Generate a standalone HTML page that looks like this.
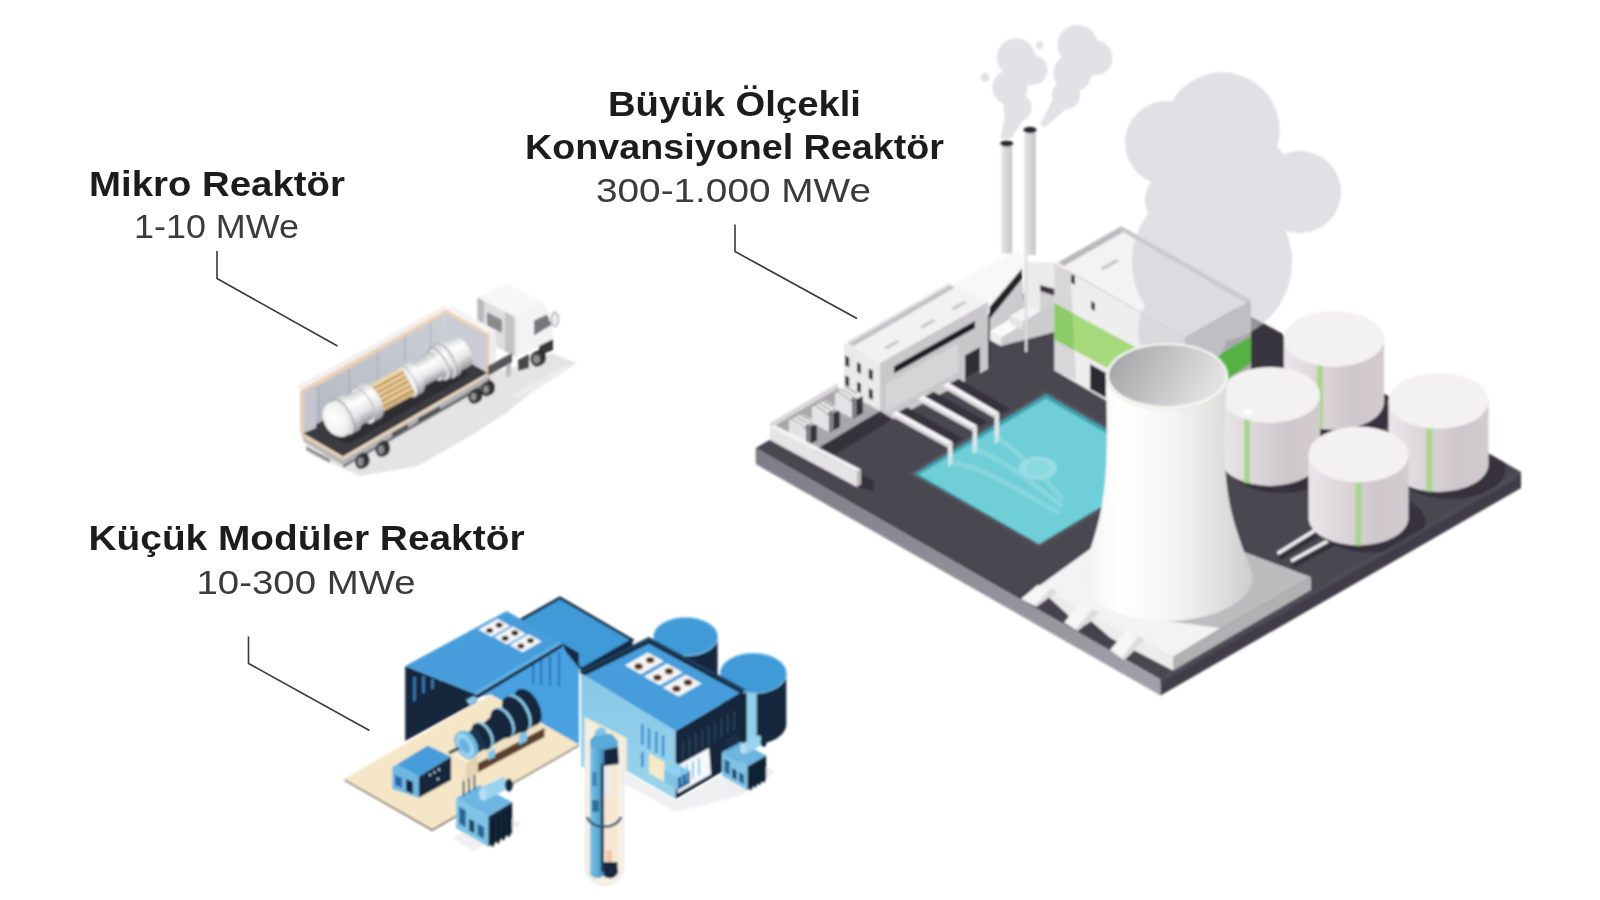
<!DOCTYPE html>
<html><head><meta charset="utf-8">
<style>
html,body{margin:0;padding:0;background:#fff;}
body{width:1600px;height:900px;overflow:hidden;font-family:"Liberation Sans",sans-serif;}
svg{display:block;position:absolute;left:0;top:0;}
.b{font-family:"Liberation Sans",sans-serif;font-weight:700;fill:#1e1e1e;}
.r{font-family:"Liberation Sans",sans-serif;font-weight:400;fill:#3a3a3a;}
.ln{fill:none;stroke:#3a3a3a;stroke-width:1.6;}
</style></head>
<body>
<svg width="1600" height="900" viewBox="0 0 1600 900">
<defs>
<filter id="soft" x="-5%" y="-5%" width="110%" height="110%"><feGaussianBlur stdDeviation="0.6"/></filter>
<filter id="soft2" x="-5%" y="-5%" width="110%" height="110%"><feGaussianBlur stdDeviation="0.8"/></filter>

<clipPath id="platclip"><polygon points="755.7,448 1116,240.5 1521,472 1160.5,679.5"/></clipPath>
<linearGradient id="pfL" x1="0" y1="0" x2="0" y2="1" gradientUnits="objectBoundingBox"><stop offset="0" stop-color="#7d7b86"/><stop offset="1" stop-color="#a3a1a9"/></linearGradient>
<linearGradient id="chim" x1="0" y1="0" x2="1" y2="0"><stop offset="0" stop-color="#e6e6e7"/><stop offset="0.5" stop-color="#d6d6d8"/><stop offset="1" stop-color="#c6c6c8"/></linearGradient>
<linearGradient id="tankg" x1="0" y1="0" x2="1" y2="0"><stop offset="0" stop-color="#ebe7e9"/><stop offset="0.35" stop-color="#dcd5d9"/><stop offset="0.7" stop-color="#cec6ca"/><stop offset="1" stop-color="#d3cccf"/></linearGradient>
<linearGradient id="towg" x1="0" y1="0" x2="1" y2="0"><stop offset="0" stop-color="#f1f1f1"/><stop offset="0.22" stop-color="#ffffff"/><stop offset="0.55" stop-color="#f4f4f4"/><stop offset="0.85" stop-color="#dcdcdc"/><stop offset="1" stop-color="#cdcdcd"/></linearGradient>
<linearGradient id="towin" x1="0" y1="0" x2="1" y2="0.3"><stop offset="0" stop-color="#a0a0a2"/><stop offset="0.5" stop-color="#c0c0c2"/><stop offset="1" stop-color="#e1e1e2"/></linearGradient>

<linearGradient id="rb" x1="0" y1="0" x2="0" y2="1"><stop offset="0" stop-color="#cfcfd2"/><stop offset="0.3" stop-color="#ffffff"/><stop offset="0.65" stop-color="#e6e6e8"/><stop offset="1" stop-color="#97979b"/></linearGradient>
<linearGradient id="cwall" x1="0" y1="1" x2="1" y2="0"><stop offset="0" stop-color="#b3b7c1"/><stop offset="1" stop-color="#ccd0d7"/></linearGradient>
<linearGradient id="rbody" x1="0" y1="0" x2="0.6" y2="1"><stop offset="0" stop-color="#ffffff"/><stop offset="0.5" stop-color="#ededee"/><stop offset="1" stop-color="#a9a9ad"/></linearGradient>
<linearGradient id="rbody2" x1="0" y1="0" x2="0.5" y2="1"><stop offset="0" stop-color="#d9d9db"/><stop offset="0.35" stop-color="#ffffff"/><stop offset="0.7" stop-color="#e3e3e5"/><stop offset="1" stop-color="#9d9da1"/></linearGradient>
<radialGradient id="rcap" cx="0.4" cy="0.4" r="0.7"><stop offset="0" stop-color="#ffffff"/><stop offset="0.7" stop-color="#f0f0f1"/><stop offset="1" stop-color="#c9c9cc"/></radialGradient>

<linearGradient id="capb" x1="0" y1="0" x2="1" y2="0"><stop offset="0" stop-color="#7fc4e6"/><stop offset="0.6" stop-color="#5aa7d2"/><stop offset="1" stop-color="#3f86b4"/></linearGradient>
<linearGradient id="b2wall" x1="0" y1="0" x2="0" y2="1"><stop offset="0" stop-color="#86c8e8"/><stop offset="1" stop-color="#9ad4ec"/></linearGradient>

</defs>
<rect width="1600" height="900" fill="#ffffff"/>
<g id="labels" filter="url(#soft)">
<text class="b" x="89" y="195.5" font-size="34.5" textLength="256" lengthAdjust="spacingAndGlyphs">Mikro Reaktör</text>
<text class="r" x="134" y="238" font-size="33.5" textLength="165" lengthAdjust="spacingAndGlyphs">1-10 MWe</text>
<text class="b" x="608" y="115.5" font-size="34.5" textLength="253" lengthAdjust="spacingAndGlyphs">Büyük Ölçekli</text>
<text class="b" x="525" y="158.5" font-size="34.5" textLength="419" lengthAdjust="spacingAndGlyphs">Konvansiyonel Reaktör</text>
<text class="r" x="596" y="202" font-size="33.5" textLength="275" lengthAdjust="spacingAndGlyphs">300-1.000 MWe</text>
<text class="b" x="88.5" y="549.5" font-size="34.5" textLength="436" lengthAdjust="spacingAndGlyphs">Küçük Modüler Reaktör</text>
<text class="r" x="196.5" y="593.5" font-size="33.5" textLength="219" lengthAdjust="spacingAndGlyphs">10-300 MWe</text>
<polyline class="ln" points="217,251 217,278.5 337.5,346"/>
<polyline class="ln" points="735,224.5 735,251.5 857,318.5"/>
<polyline class="ln" points="248.5,636.5 248.5,663.5 369.5,730.5"/>

</g>
<g id="truck" filter="url(#soft2)">
<polygon points="306.0,452.0 360.0,476.0 418.0,466.0 470.0,436.0 505.0,414.0 532.0,392.0 577.0,363.0 551.0,353.0 520.0,366.0 490.0,372.0 343.0,457.0" fill="#e4e4e5" />
<polygon points="512.0,395.0 560.0,368.0 577.0,363.0 545.0,384.0 520.0,398.0" fill="#ececec" />
<polygon points="477.5,297.5 507.0,283.5 543.0,302.0 516.0,317.5" fill="#f7f7f7" />
<polygon points="477.5,297.5 516.0,317.5 516.0,357.0 477.5,337.0" fill="#dededf" />
<polygon points="477.5,297.5 484.0,301.0 484.0,340.5 477.5,337.0" fill="#b9b9bc" />
<polygon points="505.0,312.0 514.0,316.5 514.0,356.0 505.0,351.5" fill="#c3c3c6" />
<polygon points="487.0,312.0 502.0,320.0 502.0,333.0 487.0,325.5" fill="#8b8b8f" />
<polygon points="516.0,317.5 543.0,302.0 553.0,320.0 553.0,341.0 516.0,357.0" fill="#f3f3f4" />
<polygon points="534.0,320.5 547.0,314.5 551.5,325.0 534.0,335.5" fill="#77777b" />
<polygon points="539.0,346.0 553.0,339.0 553.0,350.0 539.0,356.0" fill="#38383b" />
<ellipse cx="555" cy="319.5" rx="3.6" ry="7" fill="#ededee" stroke="#a8a8ab" stroke-width="1.3"/>
<ellipse cx="539.5" cy="357.7" rx="6.6" ry="7.8" fill="#2b2b2d"/><ellipse cx="537" cy="359" rx="6.6" ry="7.8" fill="#3c3c3f"/><ellipse cx="536.5" cy="359.3" rx="3.3" ry="4.29" fill="#8f8f92"/>
<ellipse cx="363.5" cy="460.2" rx="6" ry="7.6" fill="#2b2b2d"/><ellipse cx="361" cy="461.5" rx="6" ry="7.6" fill="#3c3c3f"/><ellipse cx="360.5" cy="461.8" rx="3.0" ry="4.18" fill="#8f8f92"/>
<ellipse cx="384.0" cy="448.2" rx="6" ry="7.6" fill="#2b2b2d"/><ellipse cx="381.5" cy="449.5" rx="6" ry="7.6" fill="#3c3c3f"/><ellipse cx="381.0" cy="449.8" rx="3.0" ry="4.18" fill="#8f8f92"/>
<ellipse cx="476.5" cy="395.2" rx="6" ry="7.6" fill="#2b2b2d"/><ellipse cx="474" cy="396.5" rx="6" ry="7.6" fill="#3c3c3f"/><ellipse cx="473.5" cy="396.8" rx="3.0" ry="4.18" fill="#8f8f92"/>
<ellipse cx="489.0" cy="387.7" rx="6" ry="7.6" fill="#2b2b2d"/><ellipse cx="486.5" cy="389" rx="6" ry="7.6" fill="#3c3c3f"/><ellipse cx="486.0" cy="389.3" rx="3.0" ry="4.18" fill="#8f8f92"/>
<polygon points="343.0,461.0 490.0,377.0 490.0,384.0 343.0,468.0" fill="#6d6d70" />
<polygon points="506.0,362.0 511.0,359.5 511.0,376.0 506.0,378.0" fill="#bdbdbf" />
<polygon points="518.0,360.0 529.0,354.0 529.0,368.0 518.0,371.0" fill="#4a4a4d" />
<polygon points="301.5,432.5 446.5,349.0 488.0,373.0 343.0,456.5" fill="#3b3b40" />
<polygon points="301.5,390.5 445.0,311.0 446.5,349.0 301.5,432.5" fill="url(#cwall)" />
<line x1="318.7" y1="384.0" x2="318.7" y2="423.0" stroke="#a3a7b1" stroke-width="1"/>
<line x1="348.9" y1="367.3" x2="348.9" y2="406.3" stroke="#a3a7b1" stroke-width="1"/>
<line x1="377.6" y1="351.4" x2="377.6" y2="390.4" stroke="#a3a7b1" stroke-width="1"/>
<line x1="404.8" y1="336.3" x2="404.8" y2="375.3" stroke="#a3a7b1" stroke-width="1"/>
<line x1="430.6" y1="321.9" x2="430.6" y2="360.9" stroke="#a3a7b1" stroke-width="1"/>
<polygon points="300.5,390.0 445.0,309.5 449.0,312.0 304.0,393.5" fill="#ead0b6" />
<polygon points="297.5,386.0 446.0,304.5 447.0,309.5 300.5,390.0" fill="#f3efec" />
<polygon points="300.0,391.0 304.0,389.5 304.0,433.5 300.0,432.0" fill="#e8ceb4" />
<polygon points="304.0,392.0 316.0,385.5 316.0,428.0 304.0,433.0" fill="#c3c6ce" />
<polygon points="445.0,311.0 488.0,335.0 488.0,373.0 446.5,349.0" fill="#c9ccd4" />
<polygon points="445.0,309.0 489.5,333.5 489.5,337.0 446.0,313.5" fill="#ead0b6" />
<polygon points="486.5,334.0 489.5,336.0 489.5,374.0 486.5,372.5" fill="#e6cbb0" />
<polygon points="446.0,308.5 452.0,305.5 496.0,330.5 489.0,334.0" fill="#f6f4f3" />
<polygon points="489.5,334.0 496.0,330.5 496.0,366.0 489.5,369.5" fill="#ededee" />
<polygon points="330.0,436.0 455.0,366.0 470.0,374.0 348.0,444.0" fill="#2d2d31" />
<g transform="translate(337.5,419.5) rotate(-28.6) scale(0.9,1)"><rect x="142" y="-16.5" width="16" height="33.0" fill="url(#rb)"/><ellipse cx="158" cy="0" rx="8.2" ry="16.5" fill="url(#rb)"/><rect x="136" y="-19" width="6" height="38" fill="url(#rb)"/><ellipse cx="142" cy="0" rx="9.5" ry="19" fill="url(#rb)"/><ellipse cx="136" cy="0" rx="9.5" ry="19" fill="#e4e4e6" stroke="#88888c" stroke-width="0.9"/><rect x="128" y="-17.5" width="6" height="35.0" fill="url(#rb)"/><ellipse cx="134" cy="0" rx="8.8" ry="17.5" fill="url(#rb)"/><ellipse cx="128" cy="0" rx="8.8" ry="17.5" fill="#ececee" stroke="#88888c" stroke-width="0.9"/><rect x="122" y="-15" width="5" height="30" fill="url(#rb)"/><ellipse cx="127" cy="0" rx="7.5" ry="15" fill="url(#rb)"/><ellipse cx="122" cy="0" rx="7.5" ry="15" fill="#e9e9eb" stroke="#9a9a9e" stroke-width="0.9"/><rect x="96" y="-12.5" width="28" height="25.0" fill="url(#rb)"/><ellipse cx="124" cy="0" rx="6.2" ry="12.5" fill="url(#rb)"/><rect x="88" y="-17" width="9" height="34" fill="url(#rb)"/><ellipse cx="97" cy="0" rx="8.5" ry="17" fill="url(#rb)"/><ellipse cx="88" cy="0" rx="8.5" ry="17" fill="#f2f2f3" stroke="#a0a0a4" stroke-width="0.9"/><rect x="42" y="-15" width="48" height="30" fill="#ead6b0"/><rect x="42" y="-11" width="48" height="2.6" fill="#c79a55"/><rect x="42" y="-6" width="48" height="2.6" fill="#c79a55"/><rect x="42" y="-1" width="48" height="2.6" fill="#c79a55"/><rect x="42" y="4" width="48" height="2.6" fill="#c79a55"/><rect x="42" y="9" width="48" height="2.6" fill="#c79a55"/><rect x="42" y="10" width="48" height="5" fill="#b9985f" opacity="0.5"/><rect x="32" y="-19.5" width="11" height="39.0" fill="url(#rb)"/><ellipse cx="43" cy="0" rx="9.8" ry="19.5" fill="url(#rb)"/><ellipse cx="32" cy="0" rx="9.8" ry="19.5" fill="#efeff1" stroke="#9a9a9e" stroke-width="0.9"/><rect x="14" y="-16.5" width="19" height="33.0" fill="url(#rb)"/><ellipse cx="33" cy="0" rx="8.2" ry="16.5" fill="url(#rb)"/><rect x="6" y="-19.5" width="9" height="39.0" fill="url(#rb)"/><ellipse cx="15" cy="0" rx="9.8" ry="19.5" fill="url(#rb)"/><ellipse cx="6" cy="0" rx="9.8" ry="19.5" fill="#dededf" stroke="#7c7c80" stroke-width="0.9"/><ellipse cx="0" cy="0" rx="15" ry="18.5" fill="url(#rcap)"/></g>
<polygon points="301.5,432.5 343.0,456.5 343.0,460.0 301.5,436.0" fill="#e7cfb2" />
<polygon points="301.5,436.0 343.0,460.0 343.0,465.5 304.5,442.5" fill="#b9b5b3" />
<polygon points="343.0,456.5 488.0,373.0 488.0,376.0 343.0,460.0" fill="#ead6bd" />
<polygon points="343.0,460.0 488.0,376.0 488.0,381.0 343.0,465.5" fill="#b4b4b7" />
<polygon points="392.0,433.0 408.0,424.0 408.0,428.0 392.0,437.0" fill="#4b4b4e" />
<polygon points="418.0,418.5 440.0,406.0 440.0,410.0 418.0,422.5" fill="#4b4b4e" />
<polygon points="306.0,446.0 330.0,459.0 330.0,463.0 306.0,450.0" fill="#8e8e91" />
<ellipse cx="363.5" cy="460.2" rx="6" ry="7.6" fill="#2b2b2d"/><ellipse cx="361" cy="461.5" rx="6" ry="7.6" fill="#3c3c3f"/><ellipse cx="360.5" cy="461.8" rx="3.0" ry="4.18" fill="#8f8f92"/>
<ellipse cx="384.0" cy="448.2" rx="6" ry="7.6" fill="#2b2b2d"/><ellipse cx="381.5" cy="449.5" rx="6" ry="7.6" fill="#3c3c3f"/><ellipse cx="381.0" cy="449.8" rx="3.0" ry="4.18" fill="#8f8f92"/>
<ellipse cx="476.5" cy="395.2" rx="5.5" ry="7" fill="#2b2b2d"/><ellipse cx="474" cy="396.5" rx="5.5" ry="7" fill="#3c3c3f"/><ellipse cx="473.5" cy="396.8" rx="2.75" ry="3.8500000000000005" fill="#8f8f92"/>
<ellipse cx="489.0" cy="387.7" rx="5.5" ry="7" fill="#2b2b2d"/><ellipse cx="486.5" cy="389" rx="5.5" ry="7" fill="#3c3c3f"/><ellipse cx="486.0" cy="389.3" rx="2.75" ry="3.8500000000000005" fill="#8f8f92"/>
<polygon points="488.0,366.0 512.0,353.0 512.0,362.0 488.0,376.0" fill="#55555a" />
</g>
<g id="smr" filter="url(#soft2)">
<polygon points="452.0,838.0 500.0,812.0 522.0,824.0 474.0,851.0" fill="#f1f1f3" />
<polygon points="626.0,772.0 676.0,801.0 745.0,762.0 770.0,776.0 740.0,796.0 676.0,812.0 610.0,776.0" fill="#f0f0f3" />
<polygon points="720.0,786.0 760.0,764.0 775.0,772.0 738.0,796.0" fill="#eeeef1" />
<polygon points="344.4,780.4 432.2,830.7 578.9,745.9 578.9,744.4 432.2,828.9 344.4,778.9" fill="#3a2c1e" />
<polygon points="344.4,778.9 491.1,694.4 578.9,744.4 432.2,828.9" fill="#f6e6c8" />
<polygon points="581.0,668.5 632.5,640.0 632.5,648.0 581.0,676.0" fill="#12283c" />
<polygon points="510.0,626.0 560.0,597.8 632.2,640.0 582.0,668.9" fill="#3f9ad8" stroke="#12283c" stroke-width="2.6" stroke-linejoin="miter"/>
<polygon points="405.2,666.0 476.7,694.4 476.7,702.0 405.2,741.1" fill="#12283c" />
<line x1="414.5" y1="677.0" x2="414.5" y2="701.0" stroke="#3f8fd2" stroke-width="2"/>
<line x1="423.5" y1="676.0" x2="423.5" y2="693.0" stroke="#3f8fd2" stroke-width="2"/>
<line x1="432.5" y1="679.0" x2="432.5" y2="689.0" stroke="#3f8fd2" stroke-width="2"/>
<line x1="441" y1="678.0" x2="441" y2="681.0" stroke="#3f8fd2" stroke-width="2"/>
<polygon points="476.7,697.0 562.2,646.0 578.9,657.0 578.9,744.4 491.0,694.4" fill="#4aa1e1" />
<polygon points="562.2,643.3 578.9,653.0 578.9,668.0 566.0,652.0" fill="#12283c" />
<line x1="533.3" y1="663.0" x2="533.3" y2="684.0" stroke="#2273bd" stroke-width="2"/>
<line x1="541.1" y1="659.5" x2="541.1" y2="685.0" stroke="#2273bd" stroke-width="2"/>
<line x1="550" y1="656.0" x2="550" y2="686.0" stroke="#2273bd" stroke-width="2"/>
<line x1="558.9" y1="652.5" x2="558.9" y2="687.0" stroke="#2273bd" stroke-width="2"/>
<polygon points="476.7,694.4 562.2,643.3 562.2,647.3 476.7,698.8" fill="#12283c" />
<polygon points="405.2,666.0 506.7,611.1 562.2,643.3 476.7,694.4" fill="#479ddb" />
<polygon points="474.0,692.8 560.0,641.6 562.2,643.3 476.7,694.4" fill="#64b1e6" />
<polygon points="478.4,629.5 497.4,618.8 510.4,626.1 491.4,636.8" fill="#f4f6f6" /><ellipse cx="489.6" cy="630.5" rx="3.5" ry="2.6" fill="#5a4030"/><ellipse cx="489.6" cy="630.5" rx="2.6" ry="1.8" fill="#2a1c14"/><ellipse cx="499.1" cy="625.1" rx="3.5" ry="2.6" fill="#5a4030"/><ellipse cx="499.1" cy="625.1" rx="2.6" ry="1.8" fill="#2a1c14"/>
<polygon points="494.0,637.3 513.0,626.6 526.0,633.9 507.0,644.6" fill="#f4f6f6" /><ellipse cx="505.2" cy="638.3" rx="3.5" ry="2.6" fill="#5a4030"/><ellipse cx="505.2" cy="638.3" rx="2.6" ry="1.8" fill="#2a1c14"/><ellipse cx="514.8" cy="632.9" rx="3.5" ry="2.6" fill="#5a4030"/><ellipse cx="514.8" cy="632.9" rx="2.6" ry="1.8" fill="#2a1c14"/>
<polygon points="509.6,645.0 528.6,634.3 541.6,641.6 522.6,652.3" fill="#f4f6f6" /><ellipse cx="520.9" cy="646.0" rx="3.5" ry="2.6" fill="#5a4030"/><ellipse cx="520.9" cy="646.0" rx="2.6" ry="1.8" fill="#2a1c14"/><ellipse cx="530.4" cy="640.6" rx="3.5" ry="2.6" fill="#5a4030"/><ellipse cx="530.4" cy="640.6" rx="2.6" ry="1.8" fill="#2a1c14"/>
<polygon points="477.8,763.3 544.4,727.8 548.0,730.0 481.0,766.0" fill="#e9d8b8" />
<polygon points="477.8,763.3 544.4,727.8 544.4,737.0 477.8,772.5" fill="#5c3f2a" />
<polygon points="469.0,758.0 536.0,722.0 544.4,727.8 477.8,763.3" fill="#f2e2c4" />
<polygon points="454.5,756.0 466.0,749.5 477.8,756.0 466.0,763.0" fill="#fbf0d8" />
<polygon points="454.5,756.0 466.0,763.0 466.0,781.0 454.5,774.0" fill="#f3e3c5" />
<polygon points="466.0,763.0 477.8,756.0 477.8,774.0 466.0,781.0" fill="#e6d3b0" />
<ellipse cx="528" cy="707" rx="11" ry="20" transform="rotate(-29 528 707)" fill="#12283c" />
<polygon points="512.0,700.0 521.0,689.5 538.0,724.0 524.0,731.0" fill="#12283c" />
<ellipse cx="518" cy="713" rx="11" ry="20" transform="rotate(-29 518 713)" fill="#8ecbea" />
<ellipse cx="515.5" cy="714.5" rx="11" ry="20" transform="rotate(-29 515.5 714.5)" fill="#12283c" />
<polygon points="498.0,712.0 510.0,700.0 524.0,731.0 508.0,738.0" fill="#12283c" />
<ellipse cx="504" cy="722" rx="9" ry="16" transform="rotate(-29 504 722)" fill="#8ecbea" />
<ellipse cx="501.5" cy="723.5" rx="9" ry="16" transform="rotate(-29 501.5 723.5)" fill="#12283c" />
<polygon points="478.0,728.0 495.0,713.0 507.0,737.0 488.0,748.0" fill="#12283c" />
<ellipse cx="484" cy="735" rx="8" ry="14.5" transform="rotate(-29 484 735)" fill="#8ecbea" />
<ellipse cx="481.5" cy="736.5" rx="8" ry="14.5" transform="rotate(-29 481.5 736.5)" fill="#12283c" />
<polygon points="462.0,737.0 476.0,726.0 487.0,748.0 472.0,756.0" fill="#1a3550" />
<ellipse cx="468" cy="744" rx="8.5" ry="14.5" transform="rotate(-29 468 744)" fill="#6fb9e2" />
<ellipse cx="465" cy="745.5" rx="8.5" ry="14.5" transform="rotate(-29 465 745.5)" fill="#9ad3ee" stroke="#4f9fd0" stroke-width="1"/>
<ellipse cx="464.5" cy="746" rx="4.5" ry="8" transform="rotate(-29 464.5 746)" fill="#6ab4de" />
<polygon points="519.0,735.0 527.0,731.0 527.0,741.0 519.0,745.0" fill="#7fc4e6" />
<polygon points="488.0,752.0 495.0,748.5 495.0,757.0 488.0,760.5" fill="#7fc4e6" />
<polygon points="466.0,700.0 474.0,696.0 478.0,700.0 470.0,705.0" fill="#8ecbea" />
<line x1="449" y1="753" x2="459" y2="748" stroke="#12283c" stroke-width="3"/>
<polygon points="396.7,764.4 427.8,745.6 451.1,756.7 418.9,776.7" fill="#479ddb" />
<polygon points="392.2,766.7 396.7,764.4 418.9,776.7 418.9,797.8 392.2,788.9" fill="#6fb8e4" />
<polygon points="418.9,776.7 451.1,756.7 451.1,780.0 418.9,797.8" fill="#12283c" />
<polygon points="406.0,779.0 413.0,782.0 413.0,794.0 406.0,791.0" fill="#12283c" />
<polygon points="395.0,775.0 402.0,778.0 402.0,788.0 395.0,785.0" fill="#2a6aa6" />
<circle cx="430.0" cy="775.0" r="1.1" fill="#dfeef6"/>
<circle cx="434.5" cy="772.3" r="1.1" fill="#dfeef6"/>
<circle cx="439.0" cy="769.6" r="1.1" fill="#dfeef6"/>
<circle cx="438" cy="779" r="1.1" fill="#dfeef6"/>
<path d="M653.6,636.7 L653.6,681.7 A32,19 0 0 0 717.6,681.7 L717.6,636.7 Z" fill="#12283c"/><ellipse cx="685.6" cy="636.7" rx="32" ry="19" fill="#3f9ad8" stroke="#7cc0ea" stroke-width="1.2"/>
<path d="M720.3,673.3 L720.3,724.3 A33,20 0 0 0 786.3,724.3 L786.3,673.3 Z" fill="#12283c"/><ellipse cx="753.3" cy="673.3" rx="33" ry="20" fill="#3f9ad8" stroke="#7cc0ea" stroke-width="1.2"/>
<polygon points="746.7,692.5 756.7,693.0 756.7,746.0 746.7,744.0" fill="#8fcfe9" />
<polygon points="584.0,715.0 627.0,737.0 627.0,772.0 584.0,751.0" fill="#f8ecd2" />
<polygon points="581.1,673.3 675.6,731.1 675.6,799.0 626.7,771.0 626.7,738.0 584.5,717.0 584.5,768.0 581.1,766.0" fill="url(#b2wall)" />
<rect x="641.0" y="724.0" width="2.6" height="21" fill="#3f8fd2"/>
<rect x="647.6999999999999" y="727.9" width="2.6" height="21" fill="#3f8fd2"/>
<rect x="655.0" y="731.8" width="2.6" height="21" fill="#3f8fd2"/>
<rect x="661.8" y="735.7" width="2.6" height="21" fill="#3f8fd2"/>
<rect x="641" y="752" width="2.6" height="15" fill="#3f8fd2"/>
<polygon points="649.0,753.0 664.5,762.0 664.5,782.0 649.0,773.0" fill="#f8e9c6" />
<polygon points="675.6,731.1 743.3,691.1 743.3,759.5 675.6,799.0" fill="#12283c" />
<line x1="683.0" y1="741.0" x2="683.0" y2="760.0" stroke="#2f4a64" stroke-width="1.3"/>
<line x1="689.4" y1="737.2" x2="689.4" y2="756.2" stroke="#2f4a64" stroke-width="1.3"/>
<line x1="695.8" y1="733.5" x2="695.8" y2="752.5" stroke="#2f4a64" stroke-width="1.3"/>
<line x1="702.2" y1="729.8" x2="702.2" y2="748.8" stroke="#2f4a64" stroke-width="1.3"/>
<line x1="708.6" y1="726.0" x2="708.6" y2="745.0" stroke="#2f4a64" stroke-width="1.3"/>
<line x1="715.0" y1="722.2" x2="715.0" y2="741.2" stroke="#2f4a64" stroke-width="1.3"/>
<line x1="721.4" y1="718.5" x2="721.4" y2="737.5" stroke="#2f4a64" stroke-width="1.3"/>
<line x1="727.8" y1="714.8" x2="727.8" y2="733.8" stroke="#2f4a64" stroke-width="1.3"/>
<line x1="734.2" y1="711.0" x2="734.2" y2="730.0" stroke="#2f4a64" stroke-width="1.3"/>
<polygon points="677.5,765.5 709.0,748.0 711.0,774.5 677.5,793.5" fill="#f5f9fb" />
<polygon points="677.5,793.5 711.0,774.5 711.0,777.0 677.5,796.5" fill="#0e1e2e" />
<polygon points="581.1,673.3 648.9,640.0 743.3,691.1 675.6,731.1" fill="#479ddb" />
<polygon points="581.1,673.3 648.9,640.0 743.3,691.1 740.5,693.2 648.9,643.8 585.0,675.6" fill="#12283c" />
<polygon points="579.0,671.5 648.9,637.0 746.0,689.6 743.3,691.1 648.9,640.0 581.1,673.3" fill="#1d3d5a" />
<polygon points="624.9,665.3 647.9,652.4 663.9,661.3 640.9,674.2" fill="#f4f6f6" /><ellipse cx="638.6" cy="666.5" rx="4.3" ry="3.2" fill="#8a5a30"/><ellipse cx="638.6" cy="666.5" rx="3.2" ry="2.2" fill="#4a2a12"/><ellipse cx="650.1" cy="660.1" rx="4.3" ry="3.2" fill="#8a5a30"/><ellipse cx="650.1" cy="660.1" rx="3.2" ry="2.2" fill="#4a2a12"/>
<polygon points="643.8,676.4 666.8,663.5 682.8,672.4 659.8,685.3" fill="#f4f6f6" /><ellipse cx="657.5" cy="677.6" rx="4.3" ry="3.2" fill="#8a5a30"/><ellipse cx="657.5" cy="677.6" rx="3.2" ry="2.2" fill="#4a2a12"/><ellipse cx="669.0" cy="671.2" rx="4.3" ry="3.2" fill="#8a5a30"/><ellipse cx="669.0" cy="671.2" rx="3.2" ry="2.2" fill="#4a2a12"/>
<polygon points="662.7,687.6 685.7,674.7 701.7,683.6 678.7,696.5" fill="#f4f6f6" /><ellipse cx="676.5" cy="688.8" rx="4.3" ry="3.2" fill="#8a5a30"/><ellipse cx="676.5" cy="688.8" rx="3.2" ry="2.2" fill="#4a2a12"/><ellipse cx="688.0" cy="682.4" rx="4.3" ry="3.2" fill="#8a5a30"/><ellipse cx="688.0" cy="682.4" rx="3.2" ry="2.2" fill="#4a2a12"/>
<polygon points="456.0,798.0 479.8,785.0 512.2,802.3 488.4,816.4" fill="#6db6e2" /><polygon points="456.0,798.0 488.4,816.4 488.4,846.6 456.0,828.2" fill="#7fc4e6" /><polygon points="488.4,816.4 512.2,802.3 512.2,832.6 488.4,846.6" fill="#12283c" /><polygon points="459.2,806.6 465.7,810.4 465.7,827.2 459.2,823.4" fill="#2a6496" /><polygon points="469.0,818.5 474.4,821.8 474.4,833.6 469.0,830.4" fill="#1d4468" /><polygon points="477.6,823.4 484.1,827.2 484.1,839.0 477.6,835.3" fill="#2a6496" /><polygon points="491.6,819.6 494.3,818.0 494.3,845.5 491.6,847.1" fill="#0b1a28" /><polygon points="497.0,816.4 499.7,814.7 499.7,842.3 497.0,843.9" fill="#0b1a28" /><polygon points="502.4,813.1 505.1,811.5 505.1,839.0 502.4,840.7" fill="#0b1a28" /><polygon points="507.8,809.9 510.5,808.3 510.5,835.8 507.8,837.4" fill="#0b1a28" /><polygon points="479.8,788.3 503.5,776.4 510.0,787.2 486.2,800.2" fill="#9ad3ee" /><ellipse cx="508.9" cy="785.0" rx="3.9" ry="6.5" fill="#12283c"/><ellipse cx="483.0" cy="794.2" rx="3.9" ry="6.5" fill="#b5e0f3"/><line x1="463.6" y1="795.8" x2="463.6" y2="780.7" stroke="#1d3d5a" stroke-width="1.7"/><line x1="469.0" y1="793.0" x2="469.0" y2="777.9" stroke="#1d3d5a" stroke-width="1.7"/><line x1="474.4" y1="790.2" x2="474.4" y2="775.1" stroke="#1d3d5a" stroke-width="1.7"/>
<polygon points="722.0,752.0 740.7,741.8 766.2,755.4 747.5,766.5" fill="#6db6e2" /><polygon points="722.0,752.0 747.5,766.5 747.5,790.2 722.0,775.8" fill="#7fc4e6" /><polygon points="747.5,766.5 766.2,755.4 766.2,779.2 747.5,790.2" fill="#12283c" /><polygon points="724.5,758.8 729.6,761.8 729.6,775.0 724.5,772.0" fill="#2a6496" /><polygon points="732.2,768.1 736.5,770.7 736.5,780.0 732.2,777.5" fill="#1d4468" /><polygon points="739.0,772.0 744.1,775.0 744.1,784.3 739.0,781.3" fill="#2a6496" /><polygon points="750.0,769.0 752.2,767.7 752.2,789.4 750.0,790.7" fill="#0b1a28" /><polygon points="754.3,766.5 756.4,765.2 756.4,786.9 754.3,788.1" fill="#0b1a28" /><polygon points="758.5,763.9 760.7,762.6 760.7,784.3 758.5,785.6" fill="#0b1a28" /><polygon points="762.8,761.4 764.9,760.1 764.9,781.8 762.8,783.0" fill="#0b1a28" /><polygon points="740.7,744.4 759.4,735.0 764.5,743.5 745.8,753.7" fill="#9ad3ee" /><ellipse cx="763.6" cy="741.8" rx="3.1" ry="5.1" fill="#12283c"/><ellipse cx="743.2" cy="749.0" rx="3.1" ry="5.1" fill="#b5e0f3"/><line x1="728.0" y1="750.3" x2="728.0" y2="738.4" stroke="#1d3d5a" stroke-width="1.4"/><line x1="732.2" y1="748.1" x2="732.2" y2="736.2" stroke="#1d3d5a" stroke-width="1.4"/><line x1="736.5" y1="745.9" x2="736.5" y2="734.0" stroke="#1d3d5a" stroke-width="1.4"/>
<polygon points="664.0,770.0 676.0,763.0 690.0,771.0 678.0,778.0" fill="#8fd0ec" />
<polygon points="664.0,770.0 678.0,778.0 678.0,790.0 664.0,782.0" fill="#7fc4e6" />
<polygon points="678.0,778.0 690.0,771.0 690.0,783.0 678.0,790.0" fill="#2a6496" />
<line x1="682" y1="767.0" x2="682" y2="784.0" stroke="#6db6e2" stroke-width="1.6"/>
<line x1="687" y1="764.5" x2="687" y2="781.5" stroke="#6db6e2" stroke-width="1.6"/>
<line x1="693" y1="761.5" x2="693" y2="778.5" stroke="#6db6e2" stroke-width="1.6"/>
<line x1="699" y1="758.5" x2="699" y2="775.5" stroke="#6db6e2" stroke-width="1.6"/>
<path d="M585.5,729 L585.5,866 A19,19 0 0 0 623.5,866 L623.5,740 L585.5,722 Z" fill="#f7efe2" opacity="0.92"/>
<path d="M585.5,729 L585.5,866 A19,19 0 0 0 623.5,866 L623.5,740" fill="none" stroke="#e3e8ee" stroke-width="1.5"/>
<path d="M603,752 L617.5,752 L617.5,866 A7,7 0 0 1 603,872 Z" fill="#f6e6d2"/>
<rect x="603" y="766" width="8" height="30" fill="#e9edf0"/>
<rect x="606" y="850" width="6" height="16" fill="#f0b89a" opacity="0.7"/>
<path d="M603,742 L618,746 L619,764 L603,766 Z" fill="#12283c"/>
<path d="M602,862 L617.5,862 L617.5,868 A7,6 0 0 1 602,874 Z" fill="#12283c"/>
<path d="M590,740 L604,736 L604,874 A7,5 0 0 1 590,872 Z" fill="url(#capb)"/>
<rect x="601" y="764" width="2.6" height="108" fill="#12283c"/>
<rect x="592" y="800" width="7" height="12" fill="#2f6f9c"/>
<rect x="592" y="772" width="5" height="14" fill="#3c86b8"/>
<path d="M590,740 L597,733 L612,734 L618,741 L618,747 L604,750 L590,746 Z" fill="#5aa9d6"/>
<path d="M594,732 L600,727 L606,729 L606,734 L598,736 Z" fill="#7fc4e6"/>
<path d="M587,817 C592,830 616,830 621,817" fill="none" stroke="#2c5a70" stroke-width="2.6"/>
</g>
<g id="plant" filter="url(#soft2)">
<polygon points="755.7,448.0 1116.0,240.5 1521.0,472.0 1160.5,679.5" fill="#484650" />
<polygon points="755.7,448.0 1160.5,679.5 1160.5,695.5 755.7,464.0" fill="url(#pfL)" />
<polygon points="1160.5,679.5 1521.0,472.0 1521.0,488.0 1160.5,695.5" fill="#403e48" />
<polygon points="1160.5,679.5 1521.0,472.0 1521.0,476.0 1160.5,683.5" fill="#4c4a54" />
<polygon points="908.0,473.5 1046.0,390.5 1180.0,466.0 1039.0,548.0" fill="#55535d" />
<polygon points="914.0,473.7 1046.0,394.0 1171.0,466.0 1039.0,544.0" fill="#3f9fad" />
<polygon points="919.0,474.5 1046.0,398.5 1166.0,467.5 1039.0,544.0" fill="#70ced8" />
<path d="M951,462 C985,468 1010,486 1058,512 M974,449 C1000,458 1024,476 1060,505 M997,437 C1012,448 1036,468 1062,498" stroke="#9adde4" stroke-width="5" fill="none" opacity="0.55" stroke-linecap="round"/>
<ellipse cx="1038" cy="468" rx="19" ry="11.5" fill="#9fdfe6" opacity="0.85"/>
<ellipse cx="1038" cy="468" rx="12" ry="7" fill="#8ad8e0"/>
<polygon points="880.0,426.0 990.0,364.0 990.0,330.0 880.0,380.0" fill="#2f2d36" />
<polygon points="848.0,343.5 950.0,285.0 988.0,302.0 880.0,363.0" fill="#f3f2f3" />
<polygon points="848.0,343.5 950.0,285.0 955.0,287.5 853.0,346.5" fill="#c2c1c3" />
<polygon points="848.0,343.5 950.0,285.0 950.0,282.5 848.0,341.0" fill="#e6e5e6" />
<polygon points="884.0,347.5 897.0,340.0 900.0,341.8 887.0,349.3" fill="#c6c5c7" />
<polygon points="920.0,326.5 933.0,319.0 936.0,320.8 923.0,328.3" fill="#c6c5c7" />
<polygon points="951.0,308.5 964.0,301.0 967.0,302.8 954.0,310.3" fill="#c6c5c7" />
<polygon points="844.0,344.0 848.0,343.5 880.0,363.0 880.0,426.0 844.0,405.0" fill="#ebe9ea" />
<polygon points="845.2,355.6 849.2,357.8 849.2,367.6 845.2,365.4" fill="#2b2930" />
<polygon points="857.0,362.0 861.0,364.2 861.0,374.0 857.0,371.8" fill="#2b2930" />
<polygon points="868.8,368.4 872.8,370.6 872.8,380.4 868.8,378.2" fill="#2b2930" />
<polygon points="845.2,375.2 849.2,377.4 849.2,387.2 845.2,385.0" fill="#2b2930" />
<polygon points="857.0,381.6 861.0,383.8 861.0,393.6 857.0,391.4" fill="#2b2930" />
<polygon points="868.8,388.0 872.8,390.2 872.8,400.0 868.8,397.8" fill="#2b2930" />
<polygon points="880.0,363.0 988.0,302.0 988.0,369.0 980.0,373.5 980.0,347.0 965.0,355.5 965.0,381.5 880.0,426.0" fill="#c9c7c9" />
<polygon points="886.0,384.0 958.0,343.5 958.0,372.0 886.0,412.0" fill="#d6d4d6" />
<polygon points="894.0,366.5 975.0,321.0 975.0,328.0 894.0,373.5" fill="#1d1b22" />
<polygon points="896.0,413.5 952.0,444.7 963.0,438.4 907.0,407.2" fill="#35333c" />
<polygon points="892.0,413.5 948.0,444.7 952.6,442.1 896.6,410.9" fill="#f9f8f9" />
<polygon points="892.0,413.5 948.0,444.7 948.0,447.7 892.0,416.5" fill="#dddbde" />
<polygon points="948.0,444.7 952.6,442.1 952.6,457.4 948.0,460.0" fill="#e2e6ea" />
<polygon points="948.0,460.0 952.6,457.4 952.6,464.0 948.0,467.0" fill="#bfe8ee" />
<polygon points="922.5,398.0 976.5,428.0 987.5,421.7 933.5,391.7" fill="#35333c" />
<polygon points="918.5,398.0 972.5,428.0 977.1,425.4 923.1,395.4" fill="#f9f8f9" />
<polygon points="918.5,398.0 972.5,428.0 972.5,431.0 918.5,401.0" fill="#dddbde" />
<polygon points="972.5,428.0 977.1,425.4 977.1,444.9 972.5,447.5" fill="#e2e6ea" />
<polygon points="972.5,447.5 977.1,444.9 977.1,451.5 972.5,454.5" fill="#bfe8ee" />
<polygon points="947.5,385.0 998.5,415.0 1009.5,408.7 958.5,378.7" fill="#35333c" />
<polygon points="943.5,385.0 994.5,415.0 999.1,412.4 948.1,382.4" fill="#f9f8f9" />
<polygon points="943.5,385.0 994.5,415.0 994.5,418.0 943.5,388.0" fill="#dddbde" />
<polygon points="994.5,415.0 999.1,412.4 999.1,434.4 994.5,437.0" fill="#e2e6ea" />
<polygon points="994.5,437.0 999.1,434.4 999.1,441.0 994.5,444.0" fill="#bfe8ee" />
<polygon points="770.0,428.0 838.0,388.0 880.0,411.0 812.0,452.0" fill="#a9a7aa" />
<polygon points="770.0,428.0 838.0,388.0 838.0,383.0 770.0,423.0" fill="#d9d7d9" />
<polygon points="807.0,428.5 817.0,423.0 817.0,440.5 807.0,445.5" fill="#36343d" />
<polygon points="789.0,420.5 801.0,413.5 814.0,420.5 802.0,427.5" fill="#f4f2f3" />
<polygon points="789.0,420.5 806.0,429.5 806.0,445.5 789.0,436.5" fill="#e4e2e4" />
<polygon points="806.0,429.5 810.0,427.3 810.0,443.5 806.0,445.5" fill="#a3a1a4" />
<line x1="791.0" y1="418.5" x2="803.0" y2="425.5" stroke="#9a989b" stroke-width="1.4"/>
<line x1="795.0" y1="416.2" x2="807.0" y2="423.2" stroke="#9a989b" stroke-width="1.4"/>
<line x1="799.0" y1="413.9" x2="811.0" y2="420.9" stroke="#9a989b" stroke-width="1.4"/>
<line x1="807.5" y1="424.5" x2="807.5" y2="445.5" stroke="#4a4850" stroke-width="1.6"/>
<polygon points="830.0,414.9 840.0,409.4 840.0,426.9 830.0,431.9" fill="#36343d" />
<polygon points="812.0,406.9 824.0,399.9 837.0,406.9 825.0,413.9" fill="#f4f2f3" />
<polygon points="812.0,406.9 829.0,415.9 829.0,431.9 812.0,422.9" fill="#e4e2e4" />
<polygon points="829.0,415.9 833.0,413.7 833.0,429.9 829.0,431.9" fill="#a3a1a4" />
<line x1="814.0" y1="404.9" x2="826.0" y2="411.9" stroke="#9a989b" stroke-width="1.4"/>
<line x1="818.0" y1="402.6" x2="830.0" y2="409.6" stroke="#9a989b" stroke-width="1.4"/>
<line x1="822.0" y1="400.3" x2="834.0" y2="407.3" stroke="#9a989b" stroke-width="1.4"/>
<line x1="830.5" y1="410.9" x2="830.5" y2="431.9" stroke="#4a4850" stroke-width="1.6"/>
<polygon points="853.0,401.3 863.0,395.8 863.0,413.3 853.0,418.3" fill="#36343d" />
<polygon points="835.0,393.3 847.0,386.3 860.0,393.3 848.0,400.3" fill="#f4f2f3" />
<polygon points="835.0,393.3 852.0,402.3 852.0,418.3 835.0,409.3" fill="#e4e2e4" />
<polygon points="852.0,402.3 856.0,400.1 856.0,416.3 852.0,418.3" fill="#a3a1a4" />
<line x1="837.0" y1="391.3" x2="849.0" y2="398.3" stroke="#9a989b" stroke-width="1.4"/>
<line x1="841.0" y1="389.0" x2="853.0" y2="396.0" stroke="#9a989b" stroke-width="1.4"/>
<line x1="845.0" y1="386.7" x2="857.0" y2="393.7" stroke="#9a989b" stroke-width="1.4"/>
<line x1="853.5" y1="397.3" x2="853.5" y2="418.3" stroke="#4a4850" stroke-width="1.6"/>
<polygon points="812.0,452.0 880.0,411.0 893.0,419.0 828.0,459.0" fill="#34323b" />
<polygon points="770.0,427.5 774.5,425.0 861.0,469.5 857.0,472.0" fill="#f6f4f5" />
<polygon points="770.0,427.5 857.0,472.0 857.0,487.0 770.0,440.0" fill="#e6e4e5" />
<polygon points="857.0,472.0 861.0,469.5 861.0,484.5 857.0,487.0" fill="#b9b7ba" />
<polygon points="861.0,474.0 874.0,481.0 874.0,491.0 857.0,487.0 861.0,484.5" fill="#34323b" />
<polygon points="990.0,317.0 1022.0,279.0 1024.0,304.0 1040.0,312.0 1055.0,306.0 1055.0,332.0 1001.0,346.0 990.0,340.0" fill="#cccbcd" />
<polygon points="990.0,331.0 1001.0,337.5 1001.0,346.0 990.0,340.0" fill="#efeeef" />
<polygon points="990.0,331.0 1012.0,318.0 1024.0,324.0 1001.0,337.5" fill="#fafafa" />
<polygon points="1010.0,316.0 1032.0,303.0 1044.0,309.0 1022.0,322.0" fill="#f6f5f6" />
<polygon points="1010.0,316.0 1022.0,322.0 1022.0,330.0 1010.0,324.0" fill="#e4e3e5" />
<polygon points="1024.0,262.0 1055.0,262.0 1055.0,306.0 1040.0,312.0 1024.0,304.0" fill="#ecebec" />
<polygon points="1040.0,285.0 1055.0,289.0 1055.0,296.0 1040.0,292.0" fill="#3a3840" />
<polygon points="1040.0,291.0 1055.0,296.0 1055.0,306.0 1040.0,312.0" fill="#d0cfd1" />
<polygon points="950.0,285.0 1018.0,250.0 1026.0,262.0 1024.0,272.0 988.0,310.0 988.0,302.0" fill="#f8f8f8" />
<polygon points="989.5,307.0 1022.0,268.5 1022.0,279.0 990.0,318.5" fill="#25232a" />
<rect x="1024.8" y="252" width="2.6" height="100" fill="#dddcde"/>
<rect x="1001.2" y="143.5" width="11" height="110" fill="url(#chim)"/>
<rect x="1024.3" y="130" width="11.6" height="125" fill="url(#chim)"/>
<ellipse cx="1006.7" cy="143.5" rx="6.4" ry="3.1" fill="#2a2830"/>
<ellipse cx="1030" cy="130" rx="6.6" ry="3.2" fill="#2a2830"/>
<g fill="#e1e1e6"><circle cx="1016" cy="57.5" r="19"/><circle cx="1032.5" cy="70" r="15"/><circle cx="1010" cy="87.5" r="17.5"/><circle cx="1017.5" cy="107.5" r="14"/><circle cx="985" cy="77.5" r="4.5"/><circle cx="1039.5" cy="45" r="3.8"/><polygon points="1000.5,139 1011,139 1027,113 1006,110"/><circle cx="1077.5" cy="45" r="20"/><circle cx="1095" cy="58" r="17.5"/><circle cx="1072.5" cy="73" r="19"/><circle cx="1066" cy="95" r="14"/><polygon points="1040,125 1045.5,127 1072,104 1054,97"/></g>
<polygon points="1250.0,316.0 1283.0,334.0 1283.0,372.0 1250.0,392.0" fill="#38363f" />
<polygon points="1055.0,263.5 1121.0,226.0 1251.0,300.0 1185.0,337.5" fill="#f4f3f4" />
<polygon points="1058.0,262.5 1121.0,226.5 1125.0,231.0 1064.0,266.0" fill="#b9b8ba" />
<polygon points="1100.0,268.0 1116.0,259.0 1119.0,261.5 1103.0,270.5" fill="#c9c8ca" />
<polygon points="1121.0,226.0 1251.0,300.0 1247.5,303.5 1119.0,229.5" fill="#c4c3c6" />
<polygon points="1054.5,263.5 1185.0,337.5 1185.0,446.0 1054.5,370.5" fill="#efedee" />
<polygon points="1054.5,263.5 1070.5,272.5 1076.0,380.0 1054.5,370.5" fill="#d8d6d8" />
<polygon points="1054.5,303.0 1185.0,374.5 1185.0,410.0 1054.5,339.5" fill="#a6d97b" />
<polygon points="1054.5,303.0 1072.5,313.0 1074.0,350.0 1054.5,339.5" fill="#8ccb68" />
<polygon points="1071.0,274.0 1075.0,276.2 1075.0,285.0 1071.0,282.8" fill="#3a3840" />
<polygon points="1091.0,301.0 1095.0,303.2 1095.0,311.0 1091.0,308.8" fill="#3a3840" />
<polygon points="1090.0,364.0 1106.0,373.0 1106.0,398.0 1090.0,389.0" fill="#2c2a33" />
<polygon points="1185.0,337.5 1251.0,300.0 1251.0,408.0 1185.0,446.0" fill="#a9a8ab" />
<polygon points="1185.0,374.5 1251.0,336.0 1251.0,363.0 1185.0,410.0" fill="#55b243" />
<g opacity="0.62" fill="#cdcdd6"><circle cx="1167" cy="143" r="42"/><circle cx="1222" cy="130" r="57.5"/><circle cx="1300" cy="192" r="41"/><circle cx="1235" cy="190" r="60"/><circle cx="1212" cy="262" r="80"/><circle cx="1183" cy="330" r="45"/><circle cx="1175" cy="200" r="30"/></g>
<ellipse cx="1346" cy="407" rx="55" ry="30" fill="#35333c" clip-path="url(#platclip)"/><path d="M1284,339 L1284,402 A50,28 0 0 0 1384,402 L1384,339 Z" fill="url(#tankg)"/><rect x="1317" y="364.9" width="6" height="64" fill="#a9d68a"/><ellipse cx="1334" cy="339" rx="50" ry="28" fill="#f3f1f2"/>
<ellipse cx="1282" cy="463" rx="55" ry="30" fill="#35333c" clip-path="url(#platclip)"/><path d="M1220,395 L1220,458 A50,28 0 0 0 1320,458 L1320,395 Z" fill="url(#tankg)"/><rect x="1244" y="418.9" width="6" height="64" fill="#a9d68a"/><ellipse cx="1270" cy="395" rx="50" ry="28" fill="#f3f1f2"/>
<ellipse cx="1450.5" cy="469" rx="55" ry="30" fill="#35333c" clip-path="url(#platclip)"/><path d="M1388.5,401 L1388.5,464 A50,28 0 0 0 1488.5,464 L1488.5,401 Z" fill="url(#tankg)"/><rect x="1426.5" y="427.5" width="6" height="64" fill="#a9d68a"/><ellipse cx="1438.5" cy="401" rx="50" ry="28" fill="#f3f1f2"/>
<ellipse cx="1248.5" cy="412" rx="5" ry="3" fill="#ffffff"/>
<polygon points="1040.0,588.0 1159.0,520.0 1311.0,577.0 1173.0,657.0" fill="#bcbcbe" />
<polygon points="1021.0,599.0 1097.0,544.0 1168.0,621.0 1220.0,628.0 1173.0,657.0 1040.0,590.0" fill="#f3f3f4" />
<polygon points="1040.0,588.0 1173.0,657.0 1173.0,670.5 1040.0,601.5" fill="#ececed" />
<polygon points="1173.0,657.0 1311.0,577.0 1311.0,590.0 1173.0,670.5" fill="#b1b1b3" />
<polygon points="1021.0,599.0 1037.5,585.0 1051.0,588.0 1035.0,606.0" fill="#f6f6f7" />
<polygon points="1035.0,606.0 1051.0,588.0 1058.0,592.0 1037.0,607.0" fill="#dcdcde" />
<polygon points="1064.0,622.5 1080.0,604.0 1092.0,609.0 1076.0,630.0" fill="#f6f6f7" />
<polygon points="1076.0,630.0 1092.0,609.0 1099.0,613.0 1078.0,631.0" fill="#dcdcde" />
<polygon points="1110.0,650.0 1126.0,631.0 1138.0,636.0 1122.5,659.0" fill="#f6f6f7" />
<polygon points="1122.5,659.0 1138.0,636.0 1145.0,640.0 1124.5,660.0" fill="#dcdcde" />
<polygon points="1037.0,606.5 1049.0,597.5 1068.0,615.0 1062.0,620.0" fill="#45434d" />
<polygon points="1079.0,630.0 1091.0,621.0 1114.0,641.0 1108.0,646.0" fill="#45434d" />
<line x1="1279.5" y1="558.5" x2="1327" y2="529" stroke="#2f2d36" stroke-width="4"/>
<line x1="1277.5" y1="553.5" x2="1325" y2="524" stroke="#f1f0f2" stroke-width="3.4"/>
<line x1="1293" y1="566" x2="1346" y2="537" stroke="#2f2d36" stroke-width="4"/>
<line x1="1291" y1="561" x2="1344" y2="532" stroke="#f1f0f2" stroke-width="3.4"/>
<path d="M1106,376 C1107,430 1108.5,470 1101,510 C1096,535 1088,556 1081,576 A86,45 0 0 0 1253,576 C1246,556 1237,535 1231,510 C1222.5,470 1223,430 1228,376 Z" fill="url(#towg)"/>
<ellipse cx="1167" cy="376.3" rx="61" ry="33.5" fill="#f5f5f5"/>
<ellipse cx="1167" cy="375.8" rx="61.6" ry="34.2" fill="none" stroke="#b8e6a0" stroke-width="1" opacity="0.4"/>
<ellipse cx="1167.2" cy="375.6" rx="58.2" ry="30.6" fill="url(#towin)"/>
<ellipse cx="1370.5" cy="522.5" rx="55" ry="30" fill="#35333c" clip-path="url(#platclip)"/><path d="M1308.5,454.5 L1308.5,517.5 A50,28 0 0 0 1408.5,517.5 L1408.5,454.5 Z" fill="url(#tankg)"/><rect x="1355.5" y="481.5" width="6" height="64" fill="#a9d68a"/><ellipse cx="1358.5" cy="454.5" rx="50" ry="28" fill="#f3f1f2"/>
</g>
</svg>
</body></html>
